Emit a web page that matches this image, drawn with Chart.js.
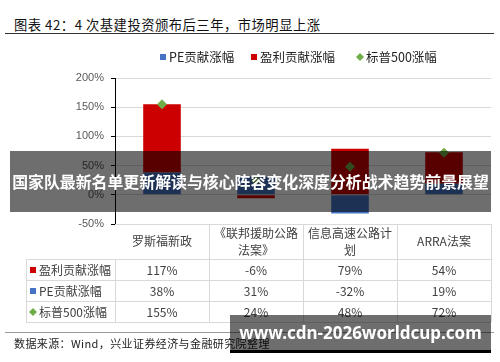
<!DOCTYPE html>
<html>
<head>
<meta charset="utf-8">
<script src="https://cdn.jsdelivr.net/npm/chart.js@4.4.1/dist/chart.umd.min.js"></script>
<style>
  body { margin: 0; background: #fff; }
  #wrap { position: relative; width: 500px; height: 362px; overflow: hidden; }
  #chart { position: absolute; left: 0; top: 0; }
  .title { position: absolute; left: 14px; top: 15px; font: 13.3px "Noto Sans CJK SC", sans-serif; color: #111; letter-spacing: 0.5px; }
  .rule { position: absolute; left: 5px; width: 489px; height: 1px; }
  .source { position: absolute; left: 14px; top: 335px; font: 11px "Noto Sans CJK SC", sans-serif; color: #222; letter-spacing: 0.4px; }
  .band { position: absolute; background: rgba(0, 0, 0, 0.57); color: #fff; font-weight: bold; white-space: nowrap; }
  #band1 { left: 10px; top: 151px; width: 481px; height: 61px; line-height: 61px; font-size: 15.9px; font-family: "Noto Sans CJK SC", sans-serif; text-align: center; }
  #band2 { left: 230px; top: 315px; width: 261px; height: 35px; line-height: 35px; font-size: 17px; font-family: "Noto Sans", sans-serif; text-align: center; border-bottom: 3px solid #000; }
</style>
</head>
<body>
<div id="wrap">
  <div class="title">图表 42：4 次基建投资颁布后三年，市场明显上涨</div>
  <div class="rule" style="top:33px;background:#333"></div>
  <canvas id="chart" width="500" height="362"></canvas>
  <div class="rule" style="top:332px;background:#999"></div>
  <div class="source">数据来源：Wind，兴业证券经济与金融研究院整理</div>
  <div class="band" id="band1">国家队最新名单更新解读与核心阵容变化深度分析战术趋势前景展望</div>
  <div class="band" id="band2">www.cdn-2026worldcup.com</div>
</div>
<script>
// Data
const categories = ['罗斯福新政', '《联邦援助公路法案》', '信息高速公路计划', 'ARRA法案'];
const peValues = [38, 31, -32, 19];
const earningsValues = [117, -6, 79, 54];
const sp500Values = [155, 24, 48, 72];
const yTicks = [-50, 0, 50, 100, 150, 200];

const BLUE = '#4472C4';
const RED = '#CC0000';
const GREEN = '#70AD47';
const TEXT = '#404040';
const FONT = '"Noto Sans CJK SC", sans-serif';

// order of rows in the data table under the chart
const tableRows = [
    { label: '盈利贡献涨幅', values: earningsValues, color: RED, marker: 'rect' },
    { label: 'PE贡献涨幅', values: peValues, color: BLUE, marker: 'rect' },
    { label: '标普500涨幅', values: sp500Values, color: GREEN, marker: 'diamond' }
];

function drawMarker(ctx, type, x, y, color) {
    ctx.fillStyle = color;
    if (type === 'diamond') {
        ctx.beginPath();
        ctx.moveTo(x, y - 4);
        ctx.lineTo(x + 4, y);
        ctx.lineTo(x, y + 4);
        ctx.lineTo(x - 4, y);
        ctx.closePath();
        ctx.fill();
    } else {
        ctx.fillRect(x - 3, y - 3, 6, 6);
    }
}

function wrapText(ctx, text, maxWidth) {
    const lines = [];
    let line = '';
    for (const ch of text) {
        if (ctx.measureText(line + ch).width > maxWidth && line) {
            lines.push(line);
            line = ch;
        } else {
            line += ch;
        }
    }
    lines.push(line);
    return lines;
}

// Legend + data table drawn after the chart
const tablePlugin = {
    id: 'dataTable',
    afterDraw(chart) {
        const { ctx, chartArea, scales: { x } } = chart;
        ctx.save();

        // legend
        const legendItems = [
            { label: 'PE贡献涨幅', color: BLUE, marker: 'rect', x: 163 },
            { label: '盈利贡献涨幅', color: RED, marker: 'rect', x: 254 },
            { label: '标普500涨幅', color: GREEN, marker: 'diamond', x: 360 }
        ];
        ctx.font = '12.5px ' + FONT;
        ctx.textBaseline = 'middle';
        ctx.textAlign = 'left';
        legendItems.forEach(item => {
            drawMarker(ctx, item.marker, item.x, 57, item.color);
            ctx.fillStyle = '#222';
            ctx.fillText(item.label, item.x + 6, 57);
        });

        // table grid
        const colW = (chartArea.right - chartArea.left) / categories.length;
        const top = chartArea.bottom;
        const rowLines = [top + 35, top + 56, top + 77, top + 98];
        const left = 26;
        ctx.strokeStyle = '#D9D9D9';
        ctx.lineWidth = 1;
        ctx.beginPath();
        ctx.moveTo(chartArea.left, top + 0.5);
        ctx.lineTo(chartArea.right, top + 0.5);
        rowLines.forEach(y => {
            ctx.moveTo(left, y + 0.5);
            ctx.lineTo(chartArea.right, y + 0.5);
        });
        for (let i = 0; i <= categories.length; i++) {
            const cx = Math.round(chartArea.left + i * colW) + 0.5;
            ctx.moveTo(cx, i === 0 ? rowLines[0] : top);
            ctx.lineTo(cx, rowLines[3]);
        }
        ctx.moveTo(left + 0.5, rowLines[0]);
        ctx.lineTo(left + 0.5, rowLines[3]);
        ctx.stroke();

        // header row: category names
        ctx.font = '12px ' + FONT;
        ctx.fillStyle = TEXT;
        ctx.textAlign = 'center';
        categories.forEach((cat, i) => {
            const cx = x.getPixelForValue(i);
            const lines = wrapText(ctx, cat, colW - 8);
            const lh = 17;
            const y0 = (top + rowLines[0]) / 2 - (lines.length - 1) * lh / 2;
            lines.forEach((ln, k) => ctx.fillText(ln, cx, y0 + k * lh));
        });

        // value rows
        tableRows.forEach((row, r) => {
            const yc = (rowLines[r] + rowLines[r + 1]) / 2 + 0.5;
            drawMarker(ctx, row.marker, 33, yc, row.color);
            ctx.fillStyle = TEXT;
            ctx.textAlign = 'left';
            ctx.fillText(row.label, 39, yc);
            ctx.textAlign = 'center';
            row.values.forEach((v, i) => {
                ctx.fillText(v + '%', x.getPixelForValue(i), yc);
            });
        });
        ctx.restore();
    }
};

const ctx = document.getElementById('chart').getContext('2d');
new Chart(ctx, {
    type: 'bar',
    data: {
        labels: categories,
        datasets: [{
            label: 'PE贡献涨幅',
            data: peValues,
            backgroundColor: BLUE,
            yAxisID: 'y',
            order: 2
        }, {
            label: '盈利贡献涨幅',
            data: earningsValues,
            backgroundColor: RED,
            yAxisID: 'y',
            order: 2
        }, {
            type: 'line',
            label: '标普500涨幅',
            data: sp500Values,
            showLine: false,
            pointStyle: 'rectRot',
            pointRadius: 4.5,
            pointBackgroundColor: GREEN,
            pointBorderColor: GREEN,
            yAxisID: 'y2',
            order: 1
        }]
    },
    options: {
        responsive: false,
        animation: false,
        layout: { padding: { left: 0, right: 9, top: 78, bottom: 138 } },
        plugins: {
            legend: { display: false },
            tooltip: { enabled: false }
        },
        datasets: {
            bar: { categoryPercentage: 1, barPercentage: 0.4 }
        },
        scales: {
            x: {
                stacked: true,
                display: false
            },
            y: {
                stacked: true,
                min: -50,
                max: 200,
                afterFit: scale => { scale.width = 115; },
                afterBuildTicks: scale => { scale.ticks = yTicks.map(v => ({ value: v })); },
                border: { display: true, color: '#000', width: 1 },
                grid: { color: '#D9D9D9', tickColor: '#000', tickLength: 4 },
                ticks: {
                    color: '#595959',
                    padding: 7,
                    font: { family: '"Liberation Sans", Arial, sans-serif', size: 11 },
                    callback: v => v + '%'
                }
            },
            y2: {
                display: false,
                min: -50,
                max: 200
            }
        }
    },
    plugins: [tablePlugin]
});
</script>
</body>
</html>
